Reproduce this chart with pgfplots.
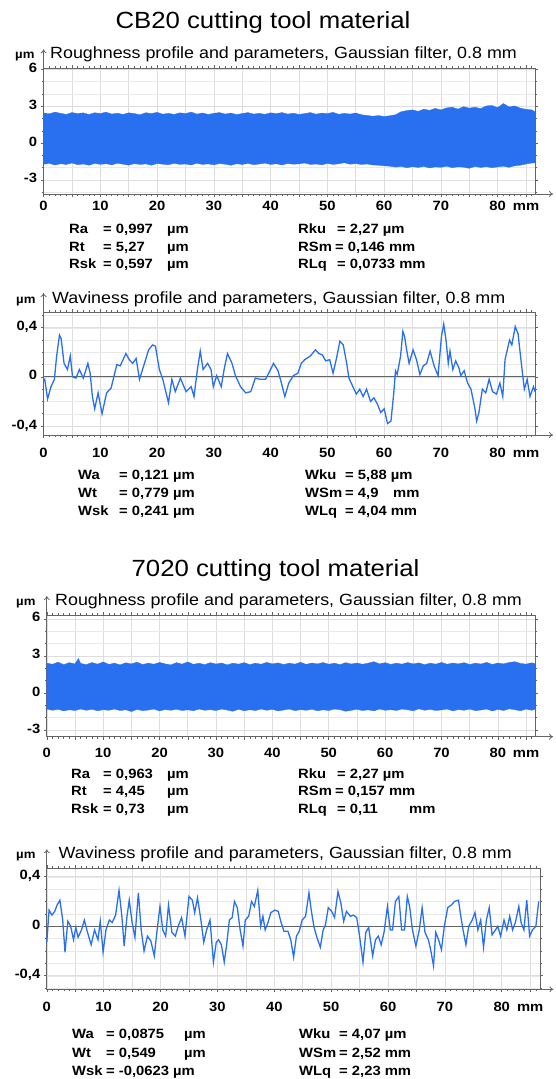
\documentclass[border=0pt]{standalone}
\usepackage{fontspec}
\setmainfont{Liberation Sans}[FakeStretch=1.1]
\usepackage{pgfplots}
\pgfplotsset{compat=1.18}
\usetikzlibrary{arrows.meta}

\definecolor{prof}{RGB}{41,112,240}
\definecolor{frame}{RGB}{100,100,100}
\definecolor{gridc}{RGB}{222,222,222}

\newcommand\tfont{\fontsize{23.5}{28}\selectfont}
\newcommand\sfont{\fontsize{16.3}{19}\selectfont}
\newcommand\pfont{\fontsize{13.5}{16}\selectfont\bfseries}
\newcommand\ufont{\fontsize{12}{14}\selectfont\bfseries}

\pgfplotsset{
  profax/.style={
    scale only axis, anchor=north west,
    xmin=0, xmax=86.6,
    xtick={0,5,...,85},
    xticklabels={0,,10,,20,,30,,40,,50,,60,,70,,80,mm},
    typeset ticklabels with strut,
    minor xtick={0,1,...,86},
    tick align=outside,
    major tick length=3bp, minor tick length=2bp,
    tick style={frame, line width=0.5bp},
    axis line style={frame, line width=0.9bp},
    xmajorgrids, ymajorgrids, yminorgrids,
    major grid style={gridc, line width=0.6bp},
    minor grid style={gridc!70, line width=0.4bp},
    tick label style={font=\fontsize{13.5}{15}\selectfont\bfseries},
    /pgf/number format/assume math mode=true,
    clip=false,
  },
  roughax/.style={profax,
    ytick={-3,0,3,6}, yticklabels={-3,0,3,6},
    minor ytick={-4,-3,...,6}},
  waveax/.style={profax,
    ytick={-0.4,0,0.4}, yticklabels={{-0,4},0,{0,4}},
    minor ytick={-0.5,-0.4,-0.3,-0.2,-0.1,0,0.1,0.2,0.3,0.4,0.5}},
}
\tikzset{arr/.style={-{To[length=4bp,width=6bp]}, frame, line width=0.8bp},
  pt/.style={anchor=base west, font=\pfont, inner sep=0}}

\begin{document}
\begin{tikzpicture}
\useasboundingbox (0,0) rectangle (556bp,-1079bp);

% ---------------- CB20 ----------------
\node[anchor=base, font=\tfont] at (263bp,-28.5bp) {CB20 cutting tool material};

% roughness CB20
\node[pt, font=\ufont] at (15bp,-58bp) {µm};
\node[anchor=base west, font=\sfont, inner sep=0] at (50bp,-58.5bp) {Roughness profile and parameters, Gaussian filter, 0.8 mm};
\begin{axis}[roughax, at={(43.6bp,-68.3bp)}, width=491.5bp, height=125.7bp, ymin=-4.14, ymax=6.08]
\addplot[fill=prof, draw=prof, line width=0.3bp] coordinates {
(0,2.45)(1,2.38)(2,2.52)(3,2.42)(4,2.33)(5,2.48)(6,2.4)(7,2.46)(8,2.32)(9,2.47)
(10,2.4)(11,2.52)(12,2.36)(13,2.43)(14,2.33)(15,2.46)(16,2.4)(17,2.3)(18,2.47)(19,2.4)
(20,2.5)(21,2.35)(22,2.42)(23,2.33)(24,2.46)(25,2.4)(26,2.52)(27,2.36)(28,2.45)(29,2.33)
(30,2.42)(31,2.48)(32,2.36)(33,2.44)(34,2.32)(35,2.4)(36,2.48)(37,2.36)(38,2.42)(39,2.34)
(40,2.46)(41,2.4)(42,2.48)(43,2.36)(44,2.43)(45,2.33)(46,2.4)(47,2.48)(48,2.35)(49,2.44)
(50,2.4)(51,2.5)(52,2.34)(53,2.42)(54,2.36)(55,2.45)(56,2.3)(57,2.25)(58,2.18)(59,2.24)
(60,2.16)(61,2.22)(62,2.3)(63,2.55)(64,2.64)(65,2.7)(66,2.58)(67,2.76)(68,2.66)(69,2.82)
(70,2.7)(71,2.86)(72,2.92)(73,2.76)(74,2.96)(75,2.84)(76,2.92)(77,2.8)(78,3.02)(79,3.06)
(80,2.88)(81,3.22)(82,2.94)(83,3.02)(84,2.84)(85,2.75)(86,2.7)(86.6,2.55)
(86.6,-1.6)(86,-1.62)(85,-1.7)(84,-1.8)(83,-1.85)(82,-1.97)(81,-1.88)(80,-1.94)
(79,-2.0)(78,-1.92)(77,-1.98)(76,-1.9)(75,-2.05)(74,-1.96)(73,-1.93)(72,-2.0)(71,-1.88)(70,-1.97)
(69,-1.94)(68,-2.02)(67,-1.9)(66,-1.98)(65,-1.92)(64,-2.0)(63,-1.9)(62,-1.95)(61,-1.88)(60,-1.85)
(59,-1.8)(58,-1.78)(57,-1.7)(56,-1.74)(55,-1.67)(54,-1.72)(53,-1.6)(52,-1.68)(51,-1.73)(50,-1.66)
(49,-1.77)(48,-1.7)(47,-1.74)(46,-1.62)(45,-1.69)(44,-1.72)(43,-1.66)(42,-1.78)(41,-1.68)(40,-1.74)
(39,-1.63)(38,-1.7)(37,-1.76)(36,-1.65)(35,-1.74)(34,-1.68)(33,-1.8)(32,-1.72)(31,-1.66)(30,-1.77)
(29,-1.69)(28,-1.74)(27,-1.64)(26,-1.78)(25,-1.7)(24,-1.73)(23,-1.65)(22,-1.76)(21,-1.72)(20,-1.66)
(19,-1.8)(18,-1.69)(17,-1.74)(16,-1.67)(15,-1.79)(14,-1.72)(13,-1.64)(12,-1.77)(11,-1.68)(10,-1.73)
(9,-1.66)(8,-1.8)(7,-1.7)(6,-1.76)(5,-1.62)(4,-1.74)(3,-1.68)(2,-1.78)(1,-1.65)(0,-1.72)
} -- cycle;
\draw[arr] (rel axis cs:1,0) -- ++(18bp,0bp);
\draw[arr] (rel axis cs:0,1) -- ++(0bp,19bp);
\end{axis}

\node[pt] at (69bp,-233bp) {Ra};
\node[pt] at (103bp,-233bp) {= 0,997};
\node[pt] at (167bp,-233bp) {µm};
\node[pt] at (69bp,-251bp) {Rt};
\node[pt] at (103bp,-251bp) {= 5,27};
\node[pt] at (167bp,-251bp) {µm};
\node[pt] at (69bp,-268bp) {Rsk};
\node[pt] at (103bp,-268bp) {= 0,597};
\node[pt] at (167bp,-268bp) {µm};
\node[pt] at (298bp,-233bp) {Rku};
\node[pt] at (337bp,-233bp) {= 2,27 µm};
\node[pt] at (298bp,-251bp) {RSm};
\node[pt] at (335bp,-251bp) {= 0,146 mm};
\node[pt] at (298bp,-268bp) {RLq};
\node[pt] at (337bp,-268bp) {= 0,0733 mm};

% waviness CB20
\node[pt, font=\ufont] at (16bp,-303bp) {µm};
\node[anchor=base west, font=\sfont, inner sep=0] at (52bp,-303.5bp) {Waviness profile and parameters, Gaussian filter, 0.8 mm};
\begin{axis}[waveax, at={(43.6bp,-312bp)}, width=491.5bp, height=123bp, ymin=-0.473, ymax=0.528,
  xticklabel style={yshift=-6bp}]
\addplot[frame, line width=1bp] coordinates {(0,0) (86.6,0)};
\addplot[prof, line width=1.3bp] coordinates {
(0,-0.03)(0.2,-0.02)(0.7,-0.18)(1.3,-0.08)(1.9,-0.02)(2.3,0.17)(2.8,0.34)(3.1,0.31)(3.6,0.11)
(4.2,0.06)(4.7,0.17)(5.1,0.0)(5.7,-0.01)(6.3,0.06)(7.0,-0.01)(7.8,0.11)(8.2,0.03)(8.6,-0.16)
(9.0,-0.26)(9.6,-0.13)(10.3,-0.30)(11.1,-0.13)(11.9,-0.09)(12.9,0.10)(13.5,0.09)(14.5,0.19)
(15.1,0.14)(15.7,0.11)(16.3,0.15)(16.9,-0.02)(17.5,0.07)(18.5,0.22)(19.2,0.26)(19.7,0.25)
(20.4,0.06)(21.0,-0.02)(22.0,-0.21)(22.6,-0.02)(23.2,-0.12)(24.1,-0.01)(25.1,-0.12)(26.0,-0.08)
(26.5,-0.16)(27.1,0.06)(27.6,0.21)(28.1,0.06)(28.9,0.11)(29.5,0.06)(29.9,-0.08)(30.5,0.01)
(31.3,-0.08)(31.8,0.06)(32.4,0.19)(33.2,0.11)(33.8,0.01)(34.7,-0.08)(35.6,-0.13)(36.5,-0.12)
(37.3,-0.01)(38.2,-0.02)(39.1,-0.02)(40.1,0.07)(40.5,0.11)(41.3,0.05)(41.9,-0.05)(42.5,-0.16)
(43.2,-0.05)(44.0,0.01)(44.8,0.03)(45.4,0.11)(46.0,0.14)(47.0,0.17)(47.9,0.22)(48.5,0.19)
(49.1,0.18)(49.7,0.13)(50.4,0.14)(51.0,0.03)(51.6,0.15)(52.2,0.29)(52.8,0.26)(53.4,0.11)
(53.8,-0.01)(54.5,-0.08)(55.1,-0.14)(55.7,-0.10)(56.3,-0.16)(56.9,-0.10)(57.6,-0.20)(58.2,-0.17)
(58.8,-0.22)(59.4,-0.29)(60.0,-0.26)(60.6,-0.38)(61.2,-0.36)(61.7,-0.13)(62.0,0.05)(62.3,0.02)
(62.9,0.17)(63.3,0.37)(63.6,0.33)(64.0,0.21)(64.4,0.11)(65.1,0.22)(65.7,0.14)(66.3,0.02)
(66.9,0.09)(67.5,0.11)(68.1,0.21)(68.8,0.09)(69.5,0.01)(70.1,0.33)(70.5,0.43)(70.9,0.30)
(71.3,0.11)(71.6,0.21)(72.1,0.06)(72.6,0.13)(73.2,0.07)(73.5,0.01)(74.1,0.05)(74.7,-0.05)
(75.3,-0.10)(76.0,-0.26)(76.3,-0.36)(76.7,-0.29)(77.3,-0.10)(77.9,-0.13)(78.5,-0.02)(79.1,-0.12)
(79.8,-0.14)(80.4,-0.05)(80.9,-0.16)(81.3,0.14)(82.1,0.30)(82.5,0.26)(83.1,0.41)(83.6,0.35)
(84.1,0.14)(84.7,-0.10)(85.2,-0.02)(85.7,-0.16)(86.3,-0.08)(86.6,-0.12)
};
\draw[arr] (rel axis cs:1,0) -- ++(18bp,0bp);
\draw[arr] (rel axis cs:0,1) -- ++(0bp,19bp);
\end{axis}

\node[pt] at (78bp,-479bp) {Wa};
\node[pt] at (119bp,-479bp) {= 0,121 µm};
\node[pt] at (78bp,-497bp) {Wt};
\node[pt] at (119bp,-497bp) {= 0,779 µm};
\node[pt] at (78bp,-515bp) {Wsk};
\node[pt] at (119bp,-515bp) {= 0,241 µm};
\node[pt] at (305bp,-479bp) {Wku};
\node[pt] at (345bp,-479bp) {= 5,88 µm};
\node[pt] at (305bp,-497bp) {WSm};
\node[pt] at (345bp,-497bp) {= 4,9};
\node[pt] at (393bp,-497bp) {mm};
\node[pt] at (305bp,-515bp) {WLq};
\node[pt] at (345bp,-515bp) {= 4,04 mm};

% ---------------- 7020 ----------------
\node[anchor=base, font=\tfont] at (275.5bp,-576.5bp) {7020 cutting tool material};

% roughness 7020
\node[pt, font=\ufont] at (16bp,-605bp) {µm};
\node[anchor=base west, font=\sfont, inner sep=0] at (55bp,-605bp) {Roughness profile and parameters, Gaussian filter, 0.8 mm};
\begin{axis}[roughax, at={(46.8bp,-615bp)}, width=488.3bp, height=121.7bp, ymin=-3.54, ymax=6.32,
  xticklabel style={yshift=-4bp}]
\addplot[fill=prof, draw=prof, line width=0.3bp] coordinates {
(0,2.42)(1,2.33)(2,2.5)(3,2.3)(4,2.46)(5,2.36)(5.6,2.8)(6,2.4)(7,2.3)(8,2.47)(9,2.34)
(10,2.52)(11,2.32)(12,2.42)(13,2.28)(14,2.45)(15,2.36)(16,2.5)(17,2.31)(18,2.42)(19,2.33)
(20,2.48)(21,2.36)(22,2.28)(23,2.46)(24,2.34)(25,2.52)(26,2.32)(27,2.42)(28,2.3)(29,2.46)
(30,2.35)(31,2.43)(32,2.28)(33,2.42)(34,2.34)(35,2.46)(36,2.3)(37,2.42)(38,2.33)(39,2.48)
(40,2.36)(41,2.44)(42,2.31)(43,2.42)(44,2.34)(45,2.49)(46,2.32)(47,2.43)(48,2.36)(49,2.47)
(50,2.33)(51,2.42)(52,2.3)(53,2.46)(54,2.35)(55,2.43)(56,2.33)(57,2.42)(58,2.54)(59,2.36)
(60,2.46)(61,2.32)(62,2.42)(63,2.34)(64,2.47)(65,2.36)(66,2.44)(67,2.3)(68,2.42)(69,2.34)
(70,2.48)(71,2.33)(72,2.43)(73,2.36)(74,2.46)(75,2.31)(76,2.42)(77,2.35)(78,2.48)(79,2.32)
(80,2.43)(81,2.36)(82,2.47)(83,2.54)(84,2.4)(85,2.34)(86,2.45)(86.6,2.38)
(86.6,-1.32)(86,-1.4)(85,-1.3)(84,-1.44)(83,-1.35)(82,-1.28)(81,-1.42)(80,-1.33)
(79,-1.46)(78,-1.3)(77,-1.38)(76,-1.43)(75,-1.3)(74,-1.4)(73,-1.34)(72,-1.45)(71,-1.3)(70,-1.37)
(69,-1.42)(68,-1.33)(67,-1.4)(66,-1.28)(65,-1.44)(64,-1.36)(63,-1.3)(62,-1.42)(61,-1.35)(60,-1.4)
(59,-1.3)(58,-1.45)(57,-1.36)(56,-1.42)(55,-1.32)(54,-1.4)(53,-1.48)(52,-1.35)(51,-1.3)(50,-1.42)
(49,-1.36)(48,-1.44)(47,-1.32)(46,-1.4)(45,-1.35)(44,-1.43)(43,-1.3)(42,-1.38)(41,-1.45)(40,-1.33)
(39,-1.4)(38,-1.3)(37,-1.42)(36,-1.36)(35,-1.44)(34,-1.32)(33,-1.48)(32,-1.38)(31,-1.3)(30,-1.42)
(29,-1.35)(28,-1.4)(27,-1.3)(26,-1.44)(25,-1.36)(24,-1.42)(23,-1.32)(22,-1.4)(21,-1.34)(20,-1.45)
(19,-1.3)(18,-1.38)(17,-1.43)(16,-1.33)(15,-1.5)(14,-1.36)(13,-1.42)(12,-1.3)(11,-1.4)(10,-1.35)
(9,-1.44)(8,-1.32)(7,-1.4)(6,-1.3)(5,-1.42)(4,-1.36)(3,-1.45)(2,-1.32)(1,-1.4)(0,-1.3)
} -- cycle;
\draw[arr] (rel axis cs:1,0) -- ++(18bp,0bp);
\draw[arr] (rel axis cs:0,1) -- ++(0bp,19bp);
\end{axis}

\node[pt] at (71bp,-778bp) {Ra};
\node[pt] at (103bp,-778bp) {= 0,963};
\node[pt] at (167bp,-778bp) {µm};
\node[pt] at (71bp,-795bp) {Rt};
\node[pt] at (103bp,-795bp) {= 4,45};
\node[pt] at (167bp,-795bp) {µm};
\node[pt] at (71bp,-813bp) {Rsk};
\node[pt] at (103bp,-813bp) {= 0,73};
\node[pt] at (167bp,-813bp) {µm};
\node[pt] at (298bp,-778bp) {Rku};
\node[pt] at (337bp,-778bp) {= 2,27 µm};
\node[pt] at (298bp,-795bp) {RSm};
\node[pt] at (335bp,-795bp) {= 0,157 mm};
\node[pt] at (298bp,-813bp) {RLq};
\node[pt] at (337bp,-813bp) {= 0,11};
\node[pt] at (409bp,-813bp) {mm};

% waviness 7020
\node[pt, font=\ufont] at (16bp,-858bp) {µm};
\node[anchor=base west, font=\sfont, inner sep=0] at (58.5bp,-858.5bp) {Waviness profile and parameters, Gaussian filter, 0.8 mm};
\begin{axis}[waveax, at={(46.8bp,-868.3bp)}, width=493.6bp, height=121bp, xmax=86.8, ymin=-0.51, ymax=0.468,
  xticklabel style={yshift=-5bp}]
\addplot[frame, line width=1bp] coordinates {(0,0) (86.8,0)};
\addplot[prof, line width=1.3bp] coordinates {
(0,-0.13)(0.4,0.13)(0.9,0.09)(1.4,0.12)(1.8,0.17)(2.3,0.21)(2.8,0.05)(3.2,-0.21)(3.7,0.04)
(4.2,0.0)(4.7,-0.11)(5.1,-0.01)(5.5,-0.09)(6.1,-0.03)(6.6,0.05)(7.1,-0.04)(7.8,-0.15)(8.4,-0.03)
(9.0,-0.11)(9.4,0.04)(9.9,-0.21)(10.4,-0.03)(11.0,0.05)(11.5,0.03)(12.1,0.09)(12.7,0.29)
(13.2,0.08)(13.6,-0.16)(14.1,0.08)(14.5,0.21)(15.0,0.03)(15.5,-0.09)(16.1,0.27)(16.6,-0.03)
(17.1,-0.20)(17.7,-0.08)(18.3,-0.12)(18.9,-0.24)(19.4,-0.03)(19.9,0.16)(20.4,-0.03)(20.9,-0.08)
(21.4,0.17)(22.0,-0.05)(22.6,-0.08)(23.1,0.0)(23.7,0.07)(24.3,-0.08)(25.0,0.24)(25.6,0.21)
(26.0,0.11)(26.5,0.23)(27.1,0.05)(27.6,-0.13)(28.1,-0.03)(28.7,0.05)(29.3,-0.29)(29.8,-0.13)
(30.2,-0.11)(30.7,-0.15)(31.2,-0.29)(31.6,-0.16)(32.1,0.05)(32.6,0.07)(33.0,0.20)(33.5,0.15)
(34.0,-0.03)(34.5,-0.16)(34.9,0.05)(35.5,0.08)(36.0,0.20)(36.5,0.16)(37.1,0.29)(37.6,0.0)
(38.0,0.08)(38.4,-0.03)(38.9,0.03)(39.4,0.11)(40.1,0.13)(40.7,0.12)(41.2,0.03)(41.7,-0.04)
(42.4,-0.04)(42.9,-0.11)(43.4,-0.25)(43.9,-0.08)(44.4,-0.04)(44.9,0.05)(45.5,0.08)(46.1,0.27)
(46.5,0.13)(47.0,-0.01)(47.5,-0.09)(48.1,-0.17)(48.6,-0.03)(49.0,0.01)(49.5,0.15)(50.1,0.12)
(50.6,0.07)(51.2,0.28)(51.7,0.19)(52.2,0.04)(52.7,0.12)(53.4,0.08)(53.9,0.09)(54.5,0.07)
(55.0,-0.08)(55.6,-0.29)(56.1,-0.05)(56.6,-0.01)(57.3,-0.24)(57.8,-0.11)(58.3,-0.08)(58.8,-0.15)
(59.3,-0.05)(59.9,0.16)(60.4,-0.03)(60.8,-0.03)(61.3,0.20)(61.9,0.24)(62.4,-0.03)(62.9,-0.03)
(63.4,0.24)(63.8,0.16)(64.3,-0.03)(64.9,-0.16)(65.5,-0.03)(66.0,0.15)(66.5,-0.05)(67.1,-0.11)
(67.5,-0.19)(68.0,-0.32)(68.4,-0.05)(68.9,-0.11)(69.4,-0.19)(69.9,0.0)(70.5,0.15)(71.1,0.17)
(71.7,0.20)(72.4,0.21)(72.8,0.08)(73.2,-0.03)(73.7,-0.15)(74.2,0.0)(74.8,0.05)(75.3,0.11)
(75.8,-0.03)(76.3,0.05)(76.8,-0.17)(77.3,0.05)(77.8,0.15)(78.3,-0.07)(78.9,-0.03)(79.3,0.0)
(79.8,-0.08)(80.4,0.05)(80.9,-0.03)(81.4,0.08)(81.9,-0.03)(82.4,0.03)(83.0,0.16)(83.4,0.03)
(83.9,-0.03)(84.4,0.21)(84.9,-0.08)(85.4,-0.03)(86.0,0.0)(86.5,0.20)
};
\draw[arr] (rel axis cs:1,0) -- ++(13bp,0bp);
\draw[arr] (rel axis cs:0,1) -- ++(0bp,19bp);
\end{axis}

\node[pt] at (72bp,-1038bp) {Wa};
\node[pt] at (106bp,-1038bp) {= 0,0875};
\node[pt] at (184bp,-1038bp) {µm};
\node[pt] at (72bp,-1057bp) {Wt};
\node[pt] at (106bp,-1057bp) {= 0,549};
\node[pt] at (184bp,-1057bp) {µm};
\node[pt] at (72bp,-1075bp) {Wsk};
\node[pt] at (106bp,-1075bp) {= -0,0623 µm};
\node[pt] at (299bp,-1038bp) {Wku};
\node[pt] at (339bp,-1038bp) {= 4,07 µm};
\node[pt] at (299bp,-1057bp) {WSm};
\node[pt] at (339bp,-1057bp) {= 2,52 mm};
\node[pt] at (299bp,-1075bp) {WLq};
\node[pt] at (339bp,-1075bp) {= 2,23 mm};
\end{tikzpicture}
\end{document}
